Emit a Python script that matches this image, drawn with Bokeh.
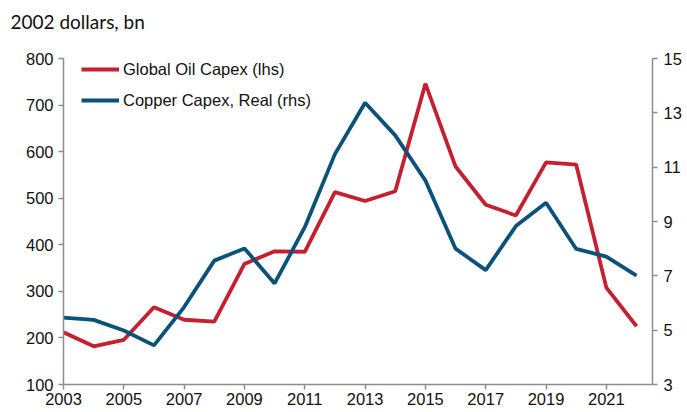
from bokeh.plotting import figure
from bokeh.models import Range1d, LinearAxis, FixedTicker, Legend, LegendItem
from bokeh.embed import file_html
from bokeh.resources import INLINE

years = list(range(2003, 2023))
oil_capex = [212, 182, 196, 266, 239, 235, 359, 386, 385, 513, 494, 515,
             746, 568, 486, 463, 577, 572, 308, 225]
copper_capex = [5.46, 5.38, 4.99, 4.44, 5.85, 7.56, 8.01, 6.72, 8.79, 11.48,
                13.37, 12.17, 10.51, 8.0, 7.21, 8.83, 9.69, 7.99, 7.71, 7.01]
x_ticks = list(range(2003, 2022, 2))
left_ticks = list(range(100, 801, 100))
right_ticks = list(range(3, 16, 2))
unit_label = "2002 dollars, bn"

RED = "#C42030"
BLUE = "#0A5279"
AXIS = "#8C8C8C"
TICK_FONT = "Liberation Sans"
FS = "16.5px"

p = figure(width=687, height=412, output_backend="svg", toolbar_location=None,
           x_range=Range1d(2003, 2022.53), y_range=Range1d(100, 800),
           min_border_left=63, min_border_right=35, min_border_top=58,
           min_border_bottom=28)
p.outline_line_color = None
p.xgrid.visible = False
p.ygrid.visible = False
p.background_fill_color = "white"

p.extra_y_ranges = {"rhs": Range1d(3, 15)}

r_oil = p.line(years, oil_capex, line_color=RED, line_width=3.8)
r_cu = p.line(years, copper_capex, line_color=BLUE, line_width=3.8,
              y_range_name="rhs")

def style(ax):
    ax.axis_line_color = AXIS
    ax.axis_line_width = 1.5
    ax.major_tick_line_color = AXIS
    ax.major_tick_line_width = 1.5
    ax.major_tick_in = 0
    ax.major_tick_out = 5
    ax.minor_tick_line_color = None
    ax.major_label_text_font = TICK_FONT
    ax.major_label_text_font_size = FS
    ax.major_label_text_color = "#111111"
    ax.major_label_standoff = 4

xa = p.xaxis[0]
xa.ticker = FixedTicker(ticks=x_ticks)
style(xa)
xa.major_label_standoff = 3
ya = p.yaxis[0]
ya.ticker = FixedTicker(ticks=left_ticks)
style(ya)
ya.major_label_standoff = 5

ra = LinearAxis(y_range_name="rhs", ticker=FixedTicker(ticks=right_ticks))
style(ra)
ra.major_label_standoff = 6
p.add_layout(ra, "right")

legend = Legend(items=[LegendItem(label="Global Oil Capex (lhs)", renderers=[r_oil]),
                       LegendItem(label="Copper Capex, Real (rhs)", renderers=[r_cu])],
                location=(18, 274))
legend.border_line_color = None
legend.background_fill_alpha = 0
legend.label_text_font = TICK_FONT
legend.label_text_font_size = FS
legend.label_text_color = "#111111"
legend.glyph_width = 38
legend.glyph_height = 20
legend.label_height = 20
legend.spacing = 11
legend.padding = 2
legend.margin = 0
legend.label_standoff = 4
p.add_layout(legend)

p.title.text = unit_label
p.title.text_font = "Lato"
p.title.text_font_size = "19px"
p.title.text_font_style = "normal"
p.title.text_color = "#111111"
p.title.align = "left"
p.title.offset = -53
p.title.standoff = 0
try:
    p.title.padding = dict(top=0, right=0, bottom=26, left=0)
except Exception:
    p.title.text = unit_label + "\n "

open("out.html", "w").write(file_html(p, INLINE))
